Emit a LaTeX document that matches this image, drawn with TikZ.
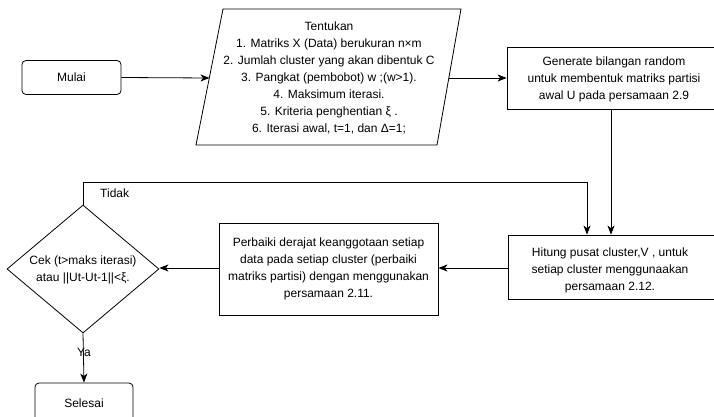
\documentclass[tikz,border=0pt]{standalone}
\usepackage{fontspec}
\setmainfont{Liberation Sans}
\usetikzlibrary{arrows.meta,shapes.geometric}
\begin{document}
\begin{tikzpicture}[x=1pt,y=-1pt,
  lw/.style={line width=0.8pt},
  txt/.style={align=center,inner sep=0pt,font=\fontsize{12}{17}\selectfont},
  sbox/.style={txt,draw,lw},
  rbox/.style={sbox,rounded corners=4pt},
  arr/.style={lw,-{Stealth[length=9pt,width=7pt,inset=2.5pt]}},
  ln/.style={lw}]
\useasboundingbox (0,0) rectangle (714,417);
\clip (0,0) rectangle (714,417);
% start
\node[rbox,minimum width=99pt,minimum height=34pt] (mulai) at (71.5,77.5) {Mulai};
% parallelogram
\coordinate (pTL) at (223,9);
\coordinate (pTR) at (461,9);
\coordinate (pBR) at (437,145);
\coordinate (pBL) at (196,145);
\draw[lw] (pTL) -- (pTR) -- (pBR) -- (pBL) -- cycle;
\node[txt] (tentukan) at (329,78) {Tentukan\\1. Matriks X (Data) berukuran n×m\\2. Jumlah cluster yang akan dibentuk C\\3. Pangkat (pembobot) w ;(w>1).\\4. Maksimum iterasi.\\5. Kriteria penghentian ξ .\\6. Iterasi awal, t=1, dan Δ=1;};
\coordinate (pin) at (209.5,78);
\coordinate (pout) at (448.5,78);
% generate
\node[sbox,minimum width=209pt,minimum height=62pt] (gen) at (611.5,78) {};
\node[txt] (gentxt) at (614,79) {Generate bilangan random\\untuk membentuk matriks partisi\\awal U pada persamaan 2.9};
% hitung
\node[sbox,minimum width=208pt,minimum height=64pt] (hitung) at (612,267) {};
\node[txt] (hittxt) at (610,270) {Hitung pusat cluster,V , untuk\\setiap cluster menggunaakan\\persamaan 2.12.};
% perbaiki
\node[sbox,minimum width=219pt,minimum height=92pt] (perb) at (328.5,269) {Perbaiki derajat keanggotaan setiap\\data pada setiap cluster (perbaiki\\matriks partisi) dengan menggunakan\\persamaan 2.11.};
% diamond
\node[draw,lw,diamond,minimum width=152pt,minimum height=128pt,inner sep=0pt] (dia) at (83,269) {};
\node[txt] (diatxt) at (83,270) {Cek (t>maks iterasi)\\atau ||Ut-Ut-1||<ξ.};
% end
\node[rbox,minimum width=98pt,minimum height=40pt] (selesai) at (84,403) {Selesai};
% connectors
\draw[arr] (mulai.east) -- (pin);
\draw[arr] (pout) -- (gen.west |- pout);
\draw[arr] (gen.south -| 611,0) -- (611,0 |- hitung.north);
\coordinate (loopc) at (587,182);
\draw[arr] (dia.north) |- (loopc) -- (loopc |- hitung.north);
\draw[arr] (hitung.west |- 0,268) -- (perb.east |- 0,268);
\draw[arr] (perb.west |- 0,268) -- (dia.east |- 0,268);
\draw[arr] (dia.south) -- (selesai.north);
\node[txt,anchor=west] (tidak) at (100,193) {Tidak};
\node[txt] (ya) at (84,352) {Ya};
\end{tikzpicture}
\end{document}
